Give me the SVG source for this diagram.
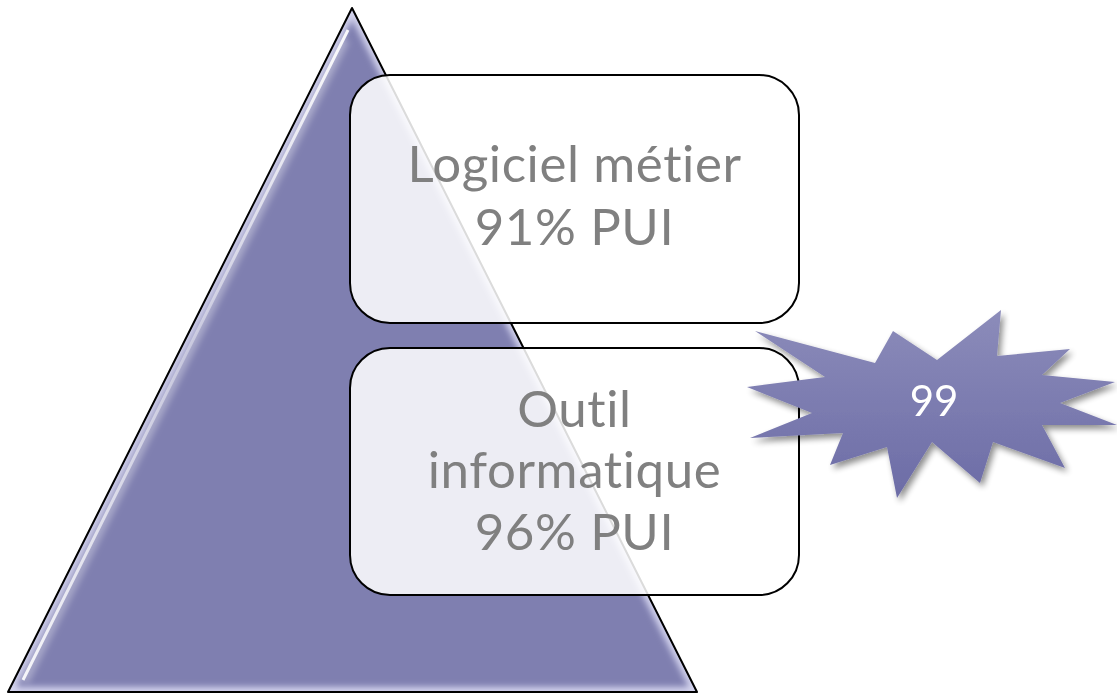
<svg xmlns="http://www.w3.org/2000/svg" width="1117" height="694" viewBox="0 0 1117 694">
<style>
.box{fill:#ffffff;fill-opacity:0.86;stroke:#000;stroke-width:2}
.lbl{font-family:Lato,"Open Sans","Liberation Sans",sans-serif;font-size:51px;letter-spacing:0.6px;fill:#808080;text-anchor:middle}
.star-t{font-family:Lato,"Open Sans","Liberation Sans",sans-serif;font-size:42px;fill:#ffffff;text-anchor:middle}
</style>
<defs>
<clipPath id="triClip"><polygon points="352,8 697,692 8,692"/></clipPath>
<filter id="blur4" x="-10%" y="-10%" width="120%" height="120%"><feGaussianBlur stdDeviation="3"/></filter>
<filter id="shadow" x="-20%" y="-20%" width="140%" height="150%"><feGaussianBlur in="SourceAlpha" stdDeviation="3"/><feOffset dx="3" dy="4"/><feComponentTransfer><feFuncA type="linear" slope="0.45"/></feComponentTransfer><feMerge><feMergeNode/><feMergeNode in="SourceGraphic"/></feMerge></filter>
<linearGradient id="starGrad" x1="0" y1="0" x2="0" y2="1"><stop offset="0" stop-color="#8c8cba"/><stop offset="1" stop-color="#6c6ca6"/></linearGradient>
<linearGradient id="hiGrad" x1="348" y1="28" x2="24" y2="680" gradientUnits="userSpaceOnUse"><stop offset="0" stop-color="#ffffff" stop-opacity="0.95"/><stop offset="0.5" stop-color="#ffffff" stop-opacity="0.35"/><stop offset="1" stop-color="#ffffff" stop-opacity="0.9"/></linearGradient>
</defs>
<g id="pyramid">
<polygon points="352,8 697,692 8,692" fill="#7f7fb0"/>
<g clip-path="url(#triClip)">
<polygon points="352,8 697,692 8,692" fill="none" stroke="#d4d4ee" stroke-width="10" filter="url(#blur4)"/>
<line x1="348" y1="30" x2="23" y2="680" stroke="url(#hiGrad)" stroke-width="3"/>
<line x1="346" y1="40" x2="25" y2="682" stroke="#ffffff" stroke-opacity="0.35" stroke-width="7" filter="url(#blur4)"/>
</g>
<polygon points="352,8 697,692 8,692" fill="none" stroke="#000" stroke-width="2" stroke-linejoin="round"/>
</g>
<g id="node-logiciel">
<rect class="box" x="350" y="75" width="449" height="248" rx="40" ry="40"/>
<text class="lbl" x="574.5" y="182">Logiciel métier</text>
<text class="lbl" x="574.5" y="245">91% PUI</text>
</g>
<g id="node-outil">
<rect class="box" x="350" y="348" width="449" height="247" rx="40" ry="40"/>
<text class="lbl" x="574.5" y="427">Outil</text>
<text class="lbl" x="574.5" y="488">informatique</text>
<text class="lbl" x="574.5" y="550">96% PUI</text>
</g>
<g id="node-99" filter="url(#shadow)">
<polygon fill="url(#starGrad)" points="755,331 875,363 893,331 937,360 1001,310 997,356 1070,349 1042,375 1115,382 1060,403 1117,425 1042,425 1065,468 993,442 980,483 932,442 897,498 887,447 830,465 843,433 750,438 812,413 747,387 825,377"/>
<text class="star-t" x="934" y="416">99</text>
</g>
<g id="connectors"></g>
</svg>
